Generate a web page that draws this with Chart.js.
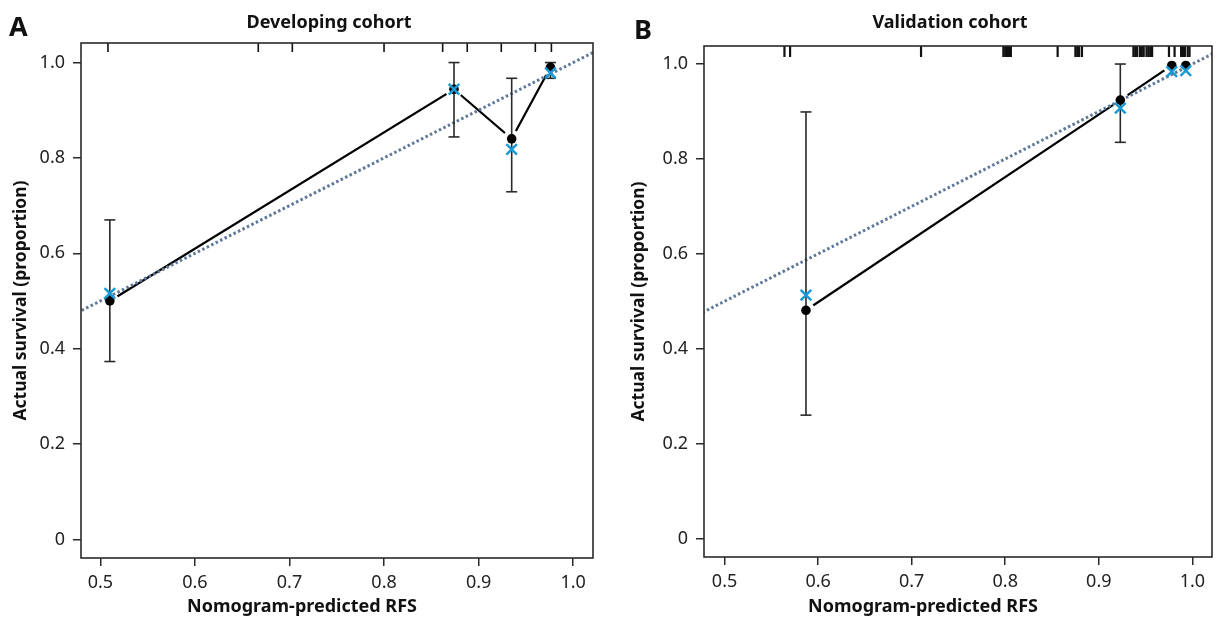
<!DOCTYPE html>
<html>
<head>
<meta charset="utf-8">
<script src="https://cdn.jsdelivr.net/npm/chart.js@4.4.1/dist/chart.umd.min.js"></script>
<style>
    html, body { margin: 0; padding: 0; background: #fff; overflow: hidden; width: 1218px; height: 623px; }
    .panel { position: absolute; top: 0; height: 623px; }
    #panelA { left: 0; width: 610px; }
    #panelB { left: 610px; width: 612px; }
    .tag { position: absolute; font: bold 27px "Noto Sans", sans-serif; color: #111; line-height: normal; }
</style>
</head>
<body>
<div class="panel" id="panelA"><canvas id="chartA" width="610" height="623"></canvas></div>
<div class="panel" id="panelB"><canvas id="chartB" width="612" height="623"></canvas></div>
<div class="tag" style="left:9px; top:7px;">A</div>
<div class="tag" style="left:634px; top:10px;">B</div>
<script>
// axis ticks and the ideal (45 degree) reference line
const xTicks = [0.5, 0.6, 0.7, 0.8, 0.9, 1.0];
const yTicks = [0, 0.2, 0.4, 0.6, 0.8, 1.0];
const idealLine = [0.4, 1.1];

// Developing cohort
const devPredicted = [0.510, 0.874, 0.935, 0.976];
const devObserved  = [0.500, 0.944, 0.840, 0.990];
const devLower     = [0.373, 0.844, 0.729, 0.967];
const devUpper     = [0.670, 1.000, 0.967, 1.000];
const devCorrected = [0.516, 0.944, 0.818, 0.978];
const devRug = [0.508, 0.667, 0.703, 0.800, 0.862, 0.888, 0.924, 0.960, 0.977];

// Validation cohort
const valPredicted = [0.587, 0.923, 0.978, 0.993];
const valObserved  = [0.481, 0.924, 0.997, 0.997];
const valLower     = [0.260, 0.835, null, null];
const valUpper     = [0.899, 1.000, null, null];
const valCorrected = [0.513, 0.907, 0.984, 0.986];
const valRug = [0.564, 0.570, 0.710, 0.798, 0.800, 0.802, 0.804, 0.806, 0.856,
    0.875, 0.877, 0.879, 0.882, 0.937, 0.939, 0.941, 0.944, 0.946, 0.948, 0.951,
    0.953, 0.955, 0.957, 0.975, 0.981, 0.988, 0.990, 0.992, 0.995, 0.997];

const FONT = '"Noto Sans", sans-serif';
const X_TITLE = 'Nomogram-predicted RFS';

// frame, rug ticks along the top, panel title and x-axis title
const framePlugin = {
    id: 'frame',
    afterDatasetsDraw(chart, args, opts) {
        const { ctx, chartArea: a, scales } = chart;
        ctx.save();
        ctx.strokeStyle = '#111';
        ctx.lineWidth = opts.rugWidth;
        opts.rug.forEach(v => {
            const px = scales.x.getPixelForValue(v);
            ctx.beginPath();
            ctx.moveTo(px, a.top);
            ctx.lineTo(px, a.top + opts.rugLength);
            ctx.stroke();
        });
        ctx.strokeStyle = '#2a2a2a';
        ctx.lineWidth = 1.6;
        ctx.strokeRect(a.left, a.top, a.right - a.left, a.bottom - a.top);

        const mid = (a.left + a.right) / 2;
        ctx.fillStyle = '#111';
        ctx.font = 'bold 18px ' + FONT;
        ctx.textAlign = 'center';
        ctx.textBaseline = 'middle';
        ctx.fillText(opts.title, mid - 8, 23);
        // the x title sits left of the plot centre in the original
        ctx.fillText(X_TITLE, mid - 35, 607);
        ctx.restore();
    }
};

function buildChart(canvasId, o) {
    const points = o.pred.map((x, i) => ({ x, y: o.obs[i] }));
    const corrected = o.pred.map((x, i) => ({ x, y: o.corr[i] }));
    const bars = [];
    o.pred.forEach((x, i) => {
        if (o.lo[i] == null) return;
        bars.push({ x, y: o.lo[i] }, { x, y: o.hi[i] }, { x, y: null });
    });

    return new Chart(document.getElementById(canvasId), {
        type: 'scatter',
        data: {
            datasets: [
                { data: points, showLine: true, borderColor: '#000', borderWidth: 2.2, pointRadius: 0, order: 10 },
                // white rings so the joining line stops short of each point
                { data: points, pointRadius: 9, pointBackgroundColor: '#fff', pointBorderWidth: 0, order: 9 },
                { data: idealLine.map(v => ({ x: v, y: v })), showLine: true, borderColor: '#5f7899', borderWidth: 3,
                  borderDash: [2.5, 2.5], pointRadius: 0, clip: 0, order: 8 },
                { data: bars, showLine: true, spanGaps: false, borderColor: '#2a2a2a', borderWidth: 1.6,
                  pointStyle: 'line', pointRadius: 5.5, pointBorderColor: '#2a2a2a', pointBorderWidth: 1.6, order: 7 },
                { data: points, pointRadius: 4.8, pointBackgroundColor: '#000', pointBorderWidth: 0, order: 6 },
                { data: corrected, pointStyle: 'crossRot', pointRadius: 7.5, pointBorderColor: '#1b9ad6',
                  pointBorderWidth: 2.5, order: 5 }
            ]
        },
        options: {
            responsive: false,
            animation: false,
            events: [],
            layout: { padding: { top: o.top, right: o.padRight, left: 0, bottom: 0 } },
            plugins: {
                legend: { display: false },
                tooltip: { enabled: false },
                frame: { rug: o.rug, rugLength: o.rugLength, rugWidth: o.rugWidth, title: o.title }
            },
            scales: {
                x: {
                    type: 'linear',
                    min: o.xMin,
                    max: 1.021,
                    afterBuildTicks: s => { s.ticks = xTicks.map(v => ({ value: v })); },
                    afterFit: s => { s.height = o.xAxisHeight; },
                    grid: { drawOnChartArea: false, drawTicks: true, tickLength: 8, color: '#2a2a2a', lineWidth: 1.5 },
                    border: { display: false },
                    ticks: { padding: 6, color: '#222', font: { family: FONT, size: 18 }, maxRotation: 0,
                             autoSkip: false, callback: v => v.toFixed(1) },
                    title: { display: false }
                },
                y: {
                    type: 'linear',
                    min: -0.039,
                    max: o.yMax,
                    afterBuildTicks: s => { s.ticks = yTicks.map(v => ({ value: v })); },
                    afterFit: s => { s.width = o.yAxisWidth; },
                    grid: { drawOnChartArea: false, drawTicks: true, tickLength: 8, color: '#2a2a2a', lineWidth: 1.5 },
                    border: { display: false },
                    ticks: { padding: 8, color: '#222', font: { family: FONT, size: 18 },
                             callback: v => v === 0 ? '0' : v.toFixed(1) },
                    title: { display: true, text: 'Actual survival (proportion)', color: '#111',
                             font: { family: FONT, size: 17.5, weight: 'bold' }, padding: { top: o.yTitlePad, bottom: 0 } }
                }
            }
        },
        plugins: [framePlugin]
    });
}

buildChart('chartA', {
    title: 'Developing cohort',
    pred: devPredicted, obs: devObserved, lo: devLower, hi: devUpper, corr: devCorrected,
    rug: devRug, rugLength: 9, rugWidth: 1.6,
    top: 43, padRight: 17, xAxisHeight: 65, yAxisWidth: 81, yTitlePad: 11,
    xMin: 0.4795, yMax: 1.041
});

buildChart('chartB', {
    title: 'Validation cohort',
    pred: valPredicted, obs: valObserved, lo: valLower, hi: valUpper, corr: valCorrected,
    rug: valRug, rugLength: 11, rugWidth: 2.2,
    top: 46, padRight: 2.6, xAxisHeight: 66, yAxisWidth: 94, yTitlePad: 19,
    xMin: 0.478, yMax: 1.038
});
</script>
</body>
</html>
